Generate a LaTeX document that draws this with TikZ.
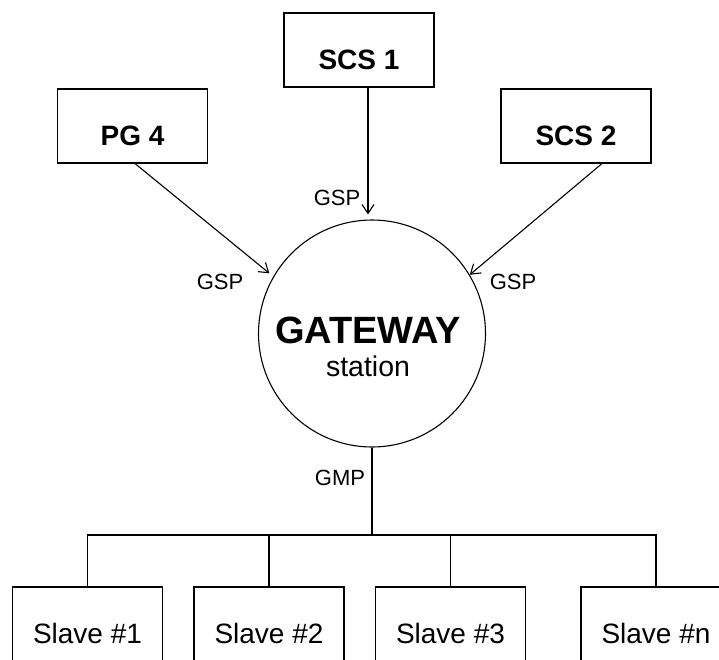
\documentclass[tikz,border=0pt]{standalone}
\usepackage{fontspec}
\setmainfont{Liberation Sans}
\usetikzlibrary{arrows.meta,positioning}

\begin{document}
\begin{tikzpicture}[
    x=1pt,y=-1pt,line width=1.1pt,
    box/.style={draw,minimum width=150pt,minimum height=74pt,inner sep=0pt,
      text height=38pt,text depth=0pt,font=\fontsize{28}{30}\selectfont},
    hub/.style={draw,circle,minimum size=227pt,inner sep=0pt},
    tag/.style={font=\fontsize{22}{24}\selectfont,inner sep=0pt},
    >={Straight Barb[length=9pt,width=12pt]}]
  \useasboundingbox (0,0) rectangle (719,659);
  % stations above the gateway
  \node[box,font=\fontsize{28}{30}\selectfont\bfseries] (scs1) at (359,50) {SCS 1};
  \node[box,font=\fontsize{28}{30}\selectfont\bfseries] (pg4) at (132.5,126) {PG 4};
  \node[box,font=\fontsize{28}{30}\selectfont\bfseries] (scs2) at (576,126) {SCS 2};
  \node[hub] (gw) at (372,333.5) {};
  \node[anchor=base,font=\fontsize{38}{40}\selectfont\bfseries] (gwname) at (368,343) {GATEWAY};
  \node[anchor=base,font=\fontsize{28.5}{30}\selectfont] (gwkind) at (368,376) {station};
  \draw[->,shorten >=5pt] ([xshift=9pt]scs1.south) -- ([xshift=-4pt]gw.north);
  \draw[->,shorten >=5pt] ([xshift=2.5pt]pg4.south) -- (gw.150);
  \draw[->] ([xshift=26pt]scs2.south) -- (gw.31);
  \node[tag] (gsp1) at (337,198) {GSP};
  \node[tag] (gsp2) at (220,282) {GSP};
  \node[tag] (gsp3) at (513,282) {GSP};
  % slaves on the bus
  \foreach \n/\x in {1/87.5,2/269,3/450.5,n/656}
    \node[box] (slave\n) at (\x,624) {Slave \#\n};
  \coordinate (bus) at (372,535);
  \draw (gw.south) -- (bus);
  \node[tag] (gmp) at (340,478) {GMP};
  \draw (slave1.north) |- (bus) -| (slaven.north);
  \foreach \n in {2,3}
    \draw (slave\n.north) -- (slave\n.north |- bus);
\end{tikzpicture}
\end{document}
